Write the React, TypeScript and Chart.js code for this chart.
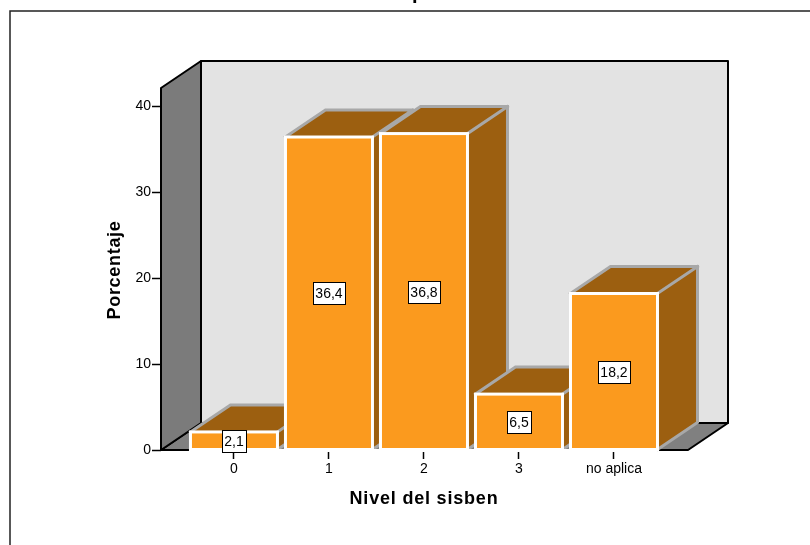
import React, { useEffect, useRef } from "react";
import { Chart, registerables } from "chart.js";

Chart.register(...registerables);

const categories = ["0", "1", "2", "3", "no aplica"];
const percentages = [2.1, 36.4, 36.8, 6.5, 18.2];
const percentLabels = ["2,1", "36,4", "36,8", "6,5", "18,2"];

const FONT = '"Liberation Sans", Arial, sans-serif';
const DEPTH_X = 40;
const DEPTH_Y = 27;
const BAR_DEPTH_X = 40;
const BAR_DEPTH_Y = 27;

const ORANGE = "#fb9a1e";
const BROWN = "#9c5f10";
const EDGE = "#a8a8a8";

function poly(ctx: CanvasRenderingContext2D, pts: number[][]) {
  ctx.beginPath();
  pts.forEach(([x, y], i) => (i ? ctx.lineTo(x, y) : ctx.moveTo(x, y)));
  ctx.closePath();
}

// Room behind the bars: left wall, back wall and floor, then the bars' top and side faces.
const roomAndDepth = {
  id: "roomAndDepth",
  beforeDatasetsDraw(chart: any) {
    const { ctx, chartArea: a } = chart;
    const { left: l, right: r, top: t, bottom: b } = a;
    ctx.save();
    ctx.lineWidth = 2;
    ctx.strokeStyle = "#000";
    ctx.lineJoin = "round";

    poly(ctx, [[l + DEPTH_X, t - DEPTH_Y], [r + DEPTH_X, t - DEPTH_Y], [r + DEPTH_X, b - DEPTH_Y], [l + DEPTH_X, b - DEPTH_Y]]);
    ctx.fillStyle = "#e3e3e3";
    ctx.fill();
    ctx.stroke();

    poly(ctx, [[l, b], [l + DEPTH_X, b - DEPTH_Y], [r + DEPTH_X, b - DEPTH_Y], [r, b]]);
    ctx.fillStyle = "#808080";
    ctx.fill();
    ctx.stroke();

    poly(ctx, [[l, t], [l + DEPTH_X, t - DEPTH_Y], [l + DEPTH_X, b - DEPTH_Y], [l, b]]);
    ctx.fillStyle = "#7b7b7b";
    ctx.fill();
    ctx.stroke();

    const bars = chart.getDatasetMeta(0).data;
    ctx.lineWidth = 3;
    ctx.lineJoin = "miter";
    ctx.lineCap = "square";
    ctx.strokeStyle = EDGE;
    bars.forEach((bar: any) => {
      const x0 = bar.x - bar.width / 2;
      const x1 = bar.x + bar.width / 2;
      const y0 = bar.y;
      const y1 = bar.base;
      ctx.fillStyle = BROWN;
      poly(ctx, [[x1, y0], [x1 + BAR_DEPTH_X, y0 - BAR_DEPTH_Y], [x1 + BAR_DEPTH_X, y1 - BAR_DEPTH_Y], [x1, y1]]);
      ctx.fill();
      poly(ctx, [[x0, y0], [x0 + BAR_DEPTH_X, y0 - BAR_DEPTH_Y], [x1 + BAR_DEPTH_X, y0 - BAR_DEPTH_Y], [x1, y0]]);
      ctx.fill();
      ctx.beginPath();
      ctx.moveTo(x0, y0);
      ctx.lineTo(x0 + BAR_DEPTH_X, y0 - BAR_DEPTH_Y);
      ctx.lineTo(x1 + BAR_DEPTH_X, y0 - BAR_DEPTH_Y);
      ctx.lineTo(x1 + BAR_DEPTH_X, y1 - BAR_DEPTH_Y);
      ctx.lineTo(x1, y1);
      ctx.moveTo(x1, y0);
      ctx.lineTo(x1 + BAR_DEPTH_X, y0 - BAR_DEPTH_Y);
      ctx.stroke();
    });
    ctx.restore();
  },
  afterDatasetsDraw(chart: any) {
    const { ctx } = chart;
    const bars = chart.getDatasetMeta(0).data;
    ctx.save();
    // White strip along the bars' feet; the floor's front edge does not show between them.
    const first = bars[0];
    const last = bars[bars.length - 1];
    ctx.fillStyle = "#fff";
    ctx.fillRect(first.x - first.width / 2, first.base - 0.5, last.x - first.x + last.width, 3);
    // White outline of each bar's front face.
    ctx.lineWidth = 3;
    ctx.strokeStyle = "#fff";
    bars.forEach((bar: any) => {
      ctx.strokeRect(bar.x - bar.width / 2, bar.y, bar.width, bar.base - bar.y);
    });
    // Value boxes centred on the bars.
    ctx.font = `14px ${FONT}`;
    ctx.textAlign = "center";
    ctx.textBaseline = "middle";
    bars.forEach((bar: any, i: number) => {
      const text = percentLabels[i];
      const w = Math.round(ctx.measureText(text).width) + 5;
      const h = 22;
      const cy = Math.round((bar.y + bar.base) / 2);
      const bx = Math.round(bar.x - w / 2) + 0.5;
      const by = cy - h / 2 + 0.5;
      ctx.fillStyle = "#fff";
      ctx.fillRect(bx, by, w, h);
      ctx.lineWidth = 1;
      ctx.strokeStyle = "#000";
      ctx.strokeRect(bx, by, w, h);
      ctx.fillStyle = "#000";
      ctx.fillText(text, bar.x, cy + 1);
    });
    ctx.restore();
  },
};

// Axis titles, page frame and the heading that runs off the top edge.
const frameAndTitles = {
  id: "frameAndTitles",
  afterDraw(chart: any) {
    const { ctx, chartArea: a } = chart;
    ctx.save();
    ctx.strokeStyle = "#222";
    ctx.lineWidth = 1.5;
    ctx.beginPath();
    ctx.moveTo(chart.width + 2, 11);
    ctx.lineTo(10, 11);
    ctx.lineTo(10, chart.height + 2);
    ctx.stroke();

    ctx.fillStyle = "#000";
    ctx.textAlign = "center";
    ctx.textBaseline = "middle";
    ctx.font = `bold 18px ${FONT}`;
    (ctx as any).letterSpacing = "0.8px";
    ctx.fillText("Nivel del sisben", 424, a.bottom + 49);
    ctx.save();
    ctx.translate(115, 270);
    ctx.rotate(-Math.PI / 2);
    (ctx as any).letterSpacing = "0.7px";
    ctx.fillText("Porcentaje", 0, 0);
    ctx.restore();
    (ctx as any).letterSpacing = "0px";
    ctx.textBaseline = "alphabetic";
    ctx.font = `bold 20px ${FONT}`;
    ctx.fillText("p", 418, -1);
    ctx.restore();
  },
};

export default function App() {
  const ref = useRef<HTMLCanvasElement>(null);

  useEffect(() => {
    if (!ref.current) return;
    const chart = new Chart(ref.current, {
      type: "bar",
      data: {
        datasets: [
          {
            data: percentages.map((y, x) => ({ x, y })),
            backgroundColor: ORANGE,
            borderWidth: 0,
            barThickness: 87,
          },
        ],
      },
      plugins: [roomAndDepth, frameAndTitles],
      options: {
        animation: false,
        responsive: false,
        devicePixelRatio: 1,
        layout: { padding: { top: 88, right: 122, left: 0, bottom: 0 } },
        plugins: { legend: { display: false }, tooltip: { enabled: false }, title: { display: false } },
        scales: {
          x: {
            type: "linear",
            offset: false,
            min: -0.768,
            max: 4.779,
            afterFit(scale: any) {
              scale.height = 95;
            },
            grid: { drawOnChartArea: false, tickLength: 9, tickColor: "#000", tickWidth: 1.5, offset: false },
            border: { display: false },
            ticks: {
              stepSize: 1,
              includeBounds: false,
              autoSkip: false,
              maxRotation: 0,
              padding: 2,
              color: "#000",
              font: { family: FONT, size: 14 },
              callback: (v: any) => categories[v] ?? "",
            },
          },
          y: {
            min: 0,
            max: 42.1,
            afterFit(scale: any) {
              scale.width = 161;
            },
            grid: { drawOnChartArea: false, tickLength: 9, tickColor: "#000", tickWidth: 1.5 },
            border: { display: false },
            ticks: {
              stepSize: 10,
              includeBounds: false,
              padding: 1,
              color: "#000",
              font: { family: FONT, size: 14 },
            },
          },
        },
      },
    } as any);
    return () => chart.destroy();
  }, []);

  return (
    <div style={{ position: "absolute", left: 0, top: 0, width: 810, height: 545, background: "#fff", overflow: "hidden" }}>
      <canvas ref={ref} width={810} height={545} style={{ display: "block" }} />
    </div>
  );
}
